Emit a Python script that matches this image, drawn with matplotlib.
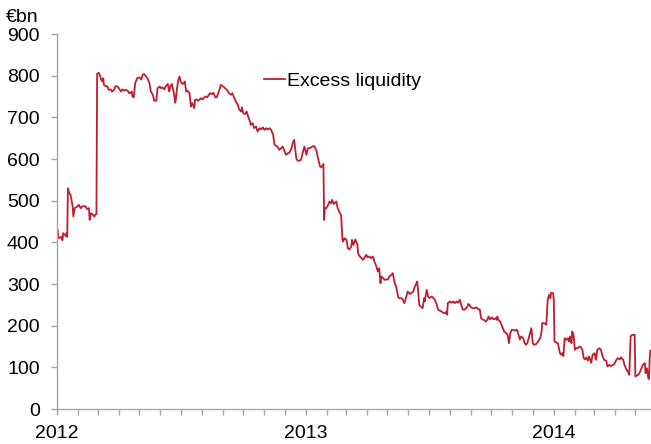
import pandas as pd
import matplotlib
matplotlib.use("Agg")
import matplotlib.pyplot as plt
import matplotlib.dates as mdates

# --- Excess liquidity, EUR bn ---
dates_2012 = [
    "2012-01-02", "2012-01-03", "2012-01-07", "2012-01-09", "2012-01-10", "2012-01-14", "2012-01-15",
    "2012-01-16", "2012-01-17", "2012-01-19", "2012-01-21", "2012-01-24", "2012-01-25", "2012-01-27",
    "2012-01-31", "2012-02-02", "2012-02-05", "2012-02-07", "2012-02-09", "2012-02-12", "2012-02-14",
    "2012-02-17", "2012-02-18", "2012-02-20", "2012-02-23", "2012-02-25", "2012-02-26", "2012-02-28",
    "2012-02-29", "2012-03-02", "2012-03-04", "2012-03-06", "2012-03-08", "2012-03-09", "2012-03-10",
    "2012-03-13", "2012-03-15", "2012-03-17", "2012-03-20", "2012-03-22", "2012-03-25", "2012-03-27",
    "2012-03-30", "2012-04-01", "2012-04-04", "2012-04-06", "2012-04-09", "2012-04-11", "2012-04-14",
    "2012-04-16", "2012-04-18", "2012-04-20", "2012-04-21", "2012-04-23", "2012-04-25", "2012-04-28",
    "2012-05-01", "2012-05-04", "2012-05-06", "2012-05-08", "2012-05-11", "2012-05-13", "2012-05-16",
    "2012-05-18", "2012-05-21", "2012-05-23", "2012-05-26", "2012-05-28", "2012-05-31", "2012-06-02",
    "2012-06-04", "2012-06-07", "2012-06-09", "2012-06-12", "2012-06-14", "2012-06-16", "2012-06-18",
    "2012-06-21", "2012-06-23", "2012-06-24", "2012-06-25", "2012-06-27", "2012-06-29", "2012-07-02",
    "2012-07-04", "2012-07-07", "2012-07-09", "2012-07-11", "2012-07-14", "2012-07-16", "2012-07-18",
    "2012-07-21", "2012-07-22", "2012-07-24", "2012-07-27", "2012-07-31", "2012-08-02", "2012-08-06",
    "2012-08-09", "2012-08-13", "2012-08-16", "2012-08-18", "2012-08-21", "2012-08-23", "2012-08-27",
    "2012-08-29", "2012-09-01", "2012-09-03", "2012-09-06", "2012-09-08", "2012-09-10", "2012-09-13",
    "2012-09-15", "2012-09-18", "2012-09-20", "2012-09-23", "2012-09-25", "2012-09-28", "2012-09-29",
    "2012-10-01", "2012-10-04", "2012-10-06", "2012-10-09", "2012-10-11", "2012-10-12", "2012-10-15",
    "2012-10-17", "2012-10-20", "2012-10-22", "2012-10-25", "2012-10-27", "2012-10-30", "2012-11-01",
    "2012-11-04", "2012-11-06", "2012-11-09", "2012-11-11", "2012-11-14", "2012-11-16", "2012-11-19",
    "2012-11-21", "2012-11-23", "2012-11-26", "2012-11-28", "2012-12-01", "2012-12-03", "2012-12-06",
    "2012-12-08", "2012-12-11", "2012-12-13", "2012-12-15", "2012-12-18", "2012-12-20", "2012-12-23",
    "2012-12-25", "2012-12-28", "2012-12-30",
]
values_2012 = [
    430, 410, 413, 405, 422, 415, 422,
    413, 530, 518, 514, 486, 462, 482,
    486, 490, 482, 486, 487, 486, 480,
    482, 454, 470, 466, 462, 466, 468,
    804, 807, 802, 790, 786, 794, 778,
    774, 775, 766, 767, 762, 766, 775,
    774, 770, 762, 767, 764, 766, 764,
    758, 759, 762, 750, 748, 782, 794,
    796, 791, 802, 804, 798, 794, 782,
    762, 754, 740, 740, 770, 774, 770,
    772, 767, 775, 780, 762, 775, 780,
    758, 735, 746, 762, 786, 798, 782,
    780, 786, 762, 764, 758, 726, 734,
    722, 742, 743, 740, 746, 743, 750,
    748, 758, 756, 759, 748, 748, 766,
    778, 774, 772, 767, 764, 758, 754,
    758, 746, 738, 730, 719, 714, 724,
    710, 708, 714, 698, 690, 682, 686,
    674, 678, 666, 674, 671, 676, 670,
    674, 671, 674, 670, 658, 634, 631,
    628, 622, 626, 630, 618, 610, 614,
    615, 626, 640, 646, 602, 596, 596,
    598, 618, 630,
]

dates_2013 = [
    "2013-01-02", "2013-01-04", "2013-01-07", "2013-01-09", "2013-01-12", "2013-01-14", "2013-01-17",
    "2013-01-19", "2013-01-22", "2013-01-24", "2013-01-27", "2013-01-28", "2013-01-29", "2013-01-31",
    "2013-02-03", "2013-02-05", "2013-02-07", "2013-02-09", "2013-02-11", "2013-02-15", "2013-02-17",
    "2013-02-20", "2013-02-22", "2013-02-24", "2013-02-25", "2013-02-27", "2013-03-02", "2013-03-04",
    "2013-03-06", "2013-03-09", "2013-03-10", "2013-03-12", "2013-03-15", "2013-03-18", "2013-03-19",
    "2013-03-21", "2013-03-24", "2013-03-26", "2013-03-28", "2013-03-31", "2013-04-02", "2013-04-05",
    "2013-04-07", "2013-04-10", "2013-04-12", "2013-04-15", "2013-04-17", "2013-04-19", "2013-04-21",
    "2013-04-22", "2013-04-25", "2013-04-27", "2013-04-30", "2013-05-02", "2013-05-04", "2013-05-07",
    "2013-05-09", "2013-05-12", "2013-05-14", "2013-05-17", "2013-05-19", "2013-05-22", "2013-05-24",
    "2013-05-26", "2013-05-29", "2013-05-31", "2013-06-03", "2013-06-05", "2013-06-08", "2013-06-10",
    "2013-06-13", "2013-06-14", "2013-06-15", "2013-06-17", "2013-06-19", "2013-06-22", "2013-06-24",
    "2013-06-25", "2013-06-28", "2013-06-30", "2013-07-02", "2013-07-05", "2013-07-07", "2013-07-10",
    "2013-07-12", "2013-07-15", "2013-07-17", "2013-07-20", "2013-07-22", "2013-07-25", "2013-07-27",
    "2013-07-28", "2013-07-29", "2013-08-01", "2013-08-03", "2013-08-06", "2013-08-08", "2013-08-11",
    "2013-08-13", "2013-08-16", "2013-08-17", "2013-08-20", "2013-08-22", "2013-08-25", "2013-08-27",
    "2013-08-28", "2013-08-30", "2013-09-01", "2013-09-04", "2013-09-07", "2013-09-09", "2013-09-12",
    "2013-09-14", "2013-09-16", "2013-09-18", "2013-09-20", "2013-09-23", "2013-09-25", "2013-09-27",
    "2013-09-29", "2013-10-02", "2013-10-04", "2013-10-07", "2013-10-09", "2013-10-10", "2013-10-11",
    "2013-10-14", "2013-10-16", "2013-10-18", "2013-10-20", "2013-10-23", "2013-10-25", "2013-10-27",
    "2013-10-29", "2013-10-31", "2013-11-03", "2013-11-05", "2013-11-08", "2013-11-10", "2013-11-12",
    "2013-11-14", "2013-11-17", "2013-11-19", "2013-11-21", "2013-11-23", "2013-11-25", "2013-11-28",
    "2013-11-29", "2013-12-01", "2013-12-03", "2013-12-06", "2013-12-09", "2013-12-12", "2013-12-14",
    "2013-12-15", "2013-12-18", "2013-12-21", "2013-12-23", "2013-12-25", "2013-12-27", "2013-12-28",
    "2013-12-31",
]
values_2013 = [
    610, 626, 626, 628, 631, 630, 618,
    602, 582, 580, 588, 454, 482, 482,
    490, 498, 494, 502, 492, 498, 482,
    471, 466, 406, 402, 410, 406, 386,
    383, 390, 406, 394, 407, 394, 374,
    367, 362, 358, 362, 370, 364, 366,
    362, 366, 354, 342, 330, 338, 302,
    318, 314, 310, 311, 311, 318, 322,
    326, 302, 294, 268, 266, 266, 262,
    254, 270, 282, 276, 278, 282, 292,
    302, 306, 290, 250, 246, 242, 266,
    258, 286, 270, 266, 270, 268, 262,
    254, 238, 236, 234, 231, 230, 234,
    226, 254, 258, 255, 258, 254, 258,
    255, 262, 254, 239, 238, 242, 246,
    252, 250, 244, 242, 242, 244, 239,
    239, 218, 215, 214, 210, 214, 222,
    215, 220, 215, 218, 214, 222, 215,
    210, 202, 194, 186, 182, 178, 158,
    182, 190, 190, 188, 190, 178, 167,
    174, 170, 159, 154, 158, 170, 188,
    194, 158, 154, 156, 162, 170, 186,
    206, 206, 202, 262, 274, 266, 279,
    278,
]

dates_2014 = [
    "2014-01-01", "2014-01-02", "2014-01-05", "2014-01-07", "2014-01-10", "2014-01-12", "2014-01-14",
    "2014-01-15", "2014-01-17", "2014-01-19", "2014-01-22", "2014-01-23", "2014-01-25", "2014-01-27",
    "2014-01-28", "2014-01-30", "2014-02-01", "2014-02-03", "2014-02-05", "2014-02-08", "2014-02-10",
    "2014-02-12", "2014-02-14", "2014-02-16", "2014-02-18", "2014-02-20", "2014-02-22", "2014-02-25",
    "2014-02-27", "2014-03-02", "2014-03-04", "2014-03-06", "2014-03-09", "2014-03-11", "2014-03-14",
    "2014-03-16", "2014-03-19", "2014-03-21", "2014-03-24", "2014-03-26", "2014-03-29", "2014-03-31",
    "2014-04-03", "2014-04-05", "2014-04-08", "2014-04-10", "2014-04-13", "2014-04-15", "2014-04-18",
    "2014-04-20", "2014-04-22", "2014-04-24", "2014-04-26", "2014-04-30", "2014-05-01", "2014-05-05",
    "2014-05-07", "2014-05-10", "2014-05-12", "2014-05-15", "2014-05-16", "2014-05-18", "2014-05-20",
    "2014-05-21", "2014-05-22", "2014-05-23",
]
values_2014 = [
    262, 162, 159, 158, 134, 130, 135,
    127, 170, 166, 170, 162, 174, 158,
    186, 178, 142, 146, 146, 150, 148,
    142, 122, 119, 124, 116, 126, 111,
    130, 134, 118, 142, 146, 143, 126,
    118, 116, 102, 106, 103, 106, 108,
    118, 122, 119, 124, 118, 106, 94,
    90, 82, 174, 178, 178, 78, 82,
    86, 98, 106, 110, 86, 98, 74,
    72, 118, 140,
]

series = pd.Series(
    values_2012 + values_2013 + values_2014,
    index=pd.to_datetime(dates_2012 + dates_2013 + dates_2014),
)

# --- Style ---
plt.rcParams["font.family"] = ["Liberation Sans", "DejaVu Sans"]
font_size = 14
axis_grey = "#a6a6a6"
line_red = "#be1e2d"

fig = plt.figure(figsize=(6.51, 4.44), dpi=100)
ax = fig.add_axes([0.0876, 0.0788, 0.9124, 0.8446])

ax.plot(series.index, series.values, color=line_red, lw=1.3, label="Excess liquidity")

ax.set_ylim(0, 900)
ax.set_yticks(range(0, 901, 100))
ax.set_xlim(pd.Timestamp("2012-01-01"), pd.Timestamp("2014-05-24"))

ax.xaxis.set_major_locator(mdates.YearLocator())
ax.xaxis.set_major_formatter(mdates.DateFormatter("%Y"))
ax.xaxis.set_minor_locator(mdates.MonthLocator())

for side in ["top", "right"]:
    ax.spines[side].set_visible(False)
for side in ["left", "bottom"]:
    ax.spines[side].set_color(axis_grey)
    ax.spines[side].set_linewidth(1.0)

ax.tick_params(axis="y", which="major", direction="out", length=4, width=1,
               color=axis_grey, pad=8.5, labelsize=font_size)
ax.tick_params(axis="x", which="both", direction="out", length=4, width=1,
               color=axis_grey, pad=7.5, labelsize=font_size)

ax.legend(loc="center left", bbox_to_anchor=(0.348, 0.875), frameon=False,
          handlelength=1.1, handletextpad=0.1, borderpad=0, borderaxespad=0,
          fontsize=font_size)

fig.text(6 / 651, 1 - 18 / 444, "€bn", ha="left", va="center", fontsize=font_size)

fig.savefig("out.png", dpi=100)
